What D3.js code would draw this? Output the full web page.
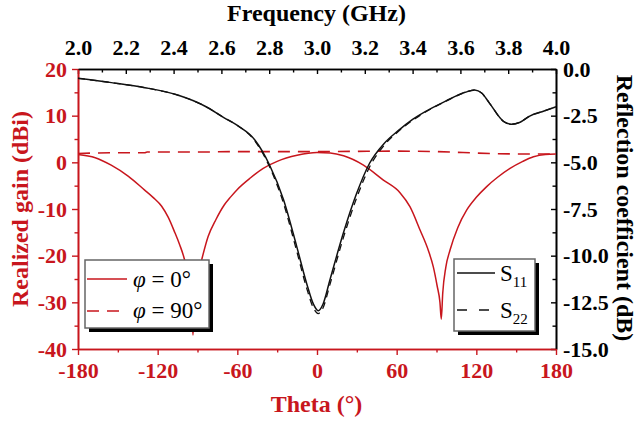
<!DOCTYPE html>
<html><head><meta charset="utf-8">
<script src="https://cdn.jsdelivr.net/npm/d3@7"></script>
</head>
<body style="margin:0;background:#fff">
<svg id="c" width="638" height="423"></svg>
<script>
// ---- data ----
const thetaPhi0 = [-180,-167,-155,-142,-130,-123.5,-117,-112,-107,-103.5,-100,-97,-94.6,-93.4,-92.2,-89.5,-86.6,-82,-76,-70,-65,-60,-50,-40.5,-30,-15,0,10,20,35,50,62.5,70,77.6,84,87.6,90.5,92.6,93.6,94.7,97,100.2,106,112.8,120,127.8,136,145.4,155,163,172,180];
const gainPhi0  = [1.7,1.0,-0.6,-3.0,-5.9,-7.5,-9.4,-11.8,-15.1,-17.6,-20.6,-24.5,-30,-37,-30,-24,-20.6,-15.9,-12.2,-9.2,-7.4,-5.8,-3.3,-1.3,0.2,1.5,2.1,2.0,1.4,-0.6,-3.8,-6.5,-9.5,-14.5,-19,-22.4,-26.5,-30,-33.6,-28,-22.5,-18.8,-14,-10.2,-7.5,-5.2,-3.2,-1.3,0.2,1.2,1.7,1.8];
const thetaPhi90 = [-180,-150,-130,-128,-120,-90,-60,-30,0,30,60,90,110,130,150,165,180];
const gainPhi90  = [1.9,2.05,2.05,2.2,2.2,2.2,2.3,2.3,2.3,2.35,2.4,2.3,2.1,1.9,1.8,1.8,1.8];
const freq = [2.0,2.14,2.28,2.42,2.53,2.61,2.67,2.74,2.80,2.86,2.915,2.957,2.985,3.005,3.025,3.054,3.11,3.166,3.22,3.28,3.34,3.40,3.54,3.62,3.66,3.69,3.72,3.78,3.815,3.85,3.89,3.95,4.0];
const s11  = [-0.5,-0.73,-1.0,-1.41,-1.98,-2.6,-3.05,-3.8,-5.1,-7.0,-9.5,-11.5,-12.6,-12.95,-12.6,-11.3,-8.8,-6.66,-5.05,-4.0,-3.3,-2.7,-1.71,-1.25,-1.12,-1.3,-1.8,-2.8,-2.96,-2.85,-2.52,-2.25,-2.02];
const s22  = [-0.5,-0.73,-1.0,-1.41,-1.98,-2.6,-3.05,-3.85,-5.2,-7.2,-9.75,-11.75,-12.8,-13.1,-12.8,-11.55,-9.05,-6.9,-5.25,-4.1,-3.35,-2.75,-1.72,-1.25,-1.12,-1.3,-1.8,-2.8,-2.96,-2.85,-2.52,-2.25,-2.02];
const thetaTicks = [-180,-120,-60,0,60,120,180];
const freqTicks = [2.0,2.2,2.4,2.6,2.8,3.0,3.2,3.4,3.6,3.8,4.0];
const gainTicks = [-40,-30,-20,-10,0,10,20];
const reflTicks = [-15,-12.5,-10,-7.5,-5,-2.5,0];

const RED = "#c8161d";
const FONT = '"Liberation Serif"';
const svg = d3.select("#c");
const L=78, R=556, T=69, B=349;
const x = d3.scaleLinear([-180,180],[L,R]);
const xf = d3.scaleLinear([2,4],[L,R]);
const yl = d3.scaleLinear([-40,20],[B,T]);
const yr = d3.scaleLinear([-15,0],[B,T]);

function styleAxis(g,color,fs){
  g.select(".domain").attr("stroke",color).attr("stroke-width",1.6);
  g.selectAll(".tick line").attr("stroke",color).attr("stroke-width",1.4);
  g.selectAll(".tick text").attr("fill",color).style("font-size",fs+"px").style("font-weight","bold").style("font-family",FONT);
}
const mid=(a)=>{const r=[];for(let i=0;i<a.length-1;i++)r.push((a[i]+a[i+1])/2);return r;};

// minor ticks
svg.append("g").attr("transform",`translate(0,${B})`).call(d3.axisBottom(x).tickValues(mid(thetaTicks)).tickSizeInner(3.5).tickSizeOuter(0).tickFormat("")).call(g=>styleAxis(g,RED,22));
svg.append("g").attr("transform",`translate(${L},0)`).call(d3.axisLeft(yl).tickValues(mid(gainTicks)).tickSizeInner(3.5).tickSizeOuter(0).tickFormat("")).call(g=>styleAxis(g,RED,22));
svg.append("g").attr("transform",`translate(0,${T})`).call(d3.axisTop(xf).tickValues(mid(freqTicks)).tickSizeInner(-3.5).tickSizeOuter(0).tickFormat("")).call(g=>styleAxis(g,"#000",22));
svg.append("g").attr("transform",`translate(${R},0)`).call(d3.axisRight(yr).tickValues(mid(reflTicks)).tickSizeInner(-3.5).tickSizeOuter(0).tickFormat("")).call(g=>styleAxis(g,"#000",22));

// major axes
svg.append("g").attr("transform",`translate(0,${T})`)
  .call(d3.axisTop(xf).tickValues(freqTicks).tickSizeInner(-5).tickSizeOuter(0).tickPadding(14).tickFormat(d=>d.toFixed(1)))
  .call(g=>styleAxis(g,"#000",22));
svg.append("g").attr("transform",`translate(${R},0)`)
  .call(d3.axisRight(yr).tickValues(reflTicks).tickSizeInner(-5).tickSizeOuter(0).tickPadding(7).tickFormat(d=>d.toFixed(1)))
  .call(g=>styleAxis(g,"#000",22));
svg.append("g").attr("transform",`translate(0,${B})`)
  .call(d3.axisBottom(x).tickValues(thetaTicks).tickSizeInner(6).tickSizeOuter(0).tickPadding(7).tickFormat(d=>String(d)))
  .call(g=>styleAxis(g,RED,22));
svg.append("g").attr("transform",`translate(${L},0)`)
  .call(d3.axisLeft(yl).tickValues(gainTicks).tickSizeInner(6).tickSizeOuter(0).tickPadding(5).tickFormat(d=>String(d)))
  .call(g=>styleAxis(g,RED,22));

// curves
const lineG = d3.line().x(d=>x(d[0])).y(d=>yl(d[1])).curve(d3.curveMonotoneX);
const lineF = d3.line().x(d=>xf(d[0])).y(d=>yr(d[1])).curve(d3.curveMonotoneX);
svg.append("path").attr("d",lineG(thetaPhi90.map((t,i)=>[t,gainPhi90[i]]))).attr("fill","none").attr("stroke",RED).attr("stroke-width",1.6).attr("stroke-dasharray","12,8");
svg.append("path").attr("d",lineG(thetaPhi0.map((t,i)=>[t,gainPhi0[i]]))).attr("fill","none").attr("stroke",RED).attr("stroke-width",1.5);
svg.append("path").attr("d",lineF(freq.map((f,i)=>[f,s22[i]]))).attr("fill","none").attr("stroke","#111").attr("stroke-width",1.3).attr("stroke-dasharray","7,5");
svg.append("path").attr("d",lineF(freq.map((f,i)=>[f,s11[i]]))).attr("fill","none").attr("stroke","#111").attr("stroke-width",1.5);

// axis titles
const title=(sel)=>sel.style("font-family",FONT).style("font-size","24px").style("font-weight","bold").attr("text-anchor","middle");
svg.append("text").attr("x",316.5).attr("y",21).call(title).text("Frequency (GHz)");
svg.append("text").attr("x",316.5).attr("y",412).call(title).attr("fill",RED).text("Theta (°)");
svg.append("text").attr("transform","translate(28,209) rotate(-90)").call(title).attr("fill",RED).text("Realized gain (dBi)");
svg.append("text").attr("transform","translate(617,208) rotate(90)").call(title).text("Reflection coefficient (dB)");

// legends
function legendBox(x0,y0,w,h){
  svg.append("rect").attr("x",x0+4).attr("y",y0+4).attr("width",w).attr("height",h).attr("fill","#000");
  svg.append("rect").attr("x",x0).attr("y",y0).attr("width",w).attr("height",h).attr("fill","#fff").attr("stroke","#666").attr("stroke-width",1.5);
}
const ltext=(sel)=>sel.style("font-family",FONT).style("font-size","23px");
legendBox(85,260,124,68);
svg.append("line").attr("x1",87).attr("x2",127).attr("y1",279).attr("y2",279).attr("stroke",RED).attr("stroke-width",1.5);
svg.append("line").attr("x1",87).attr("x2",127).attr("y1",311).attr("y2",311).attr("stroke",RED).attr("stroke-width",1.5).attr("stroke-dasharray","12,8");
const t1=svg.append("text").attr("x",133).attr("y",287).call(ltext);
t1.append("tspan").style("font-style","italic").text("φ");
t1.append("tspan").text(" = 0°");
const t2=svg.append("text").attr("x",133).attr("y",318).call(ltext);
t2.append("tspan").style("font-style","italic").text("φ");
t2.append("tspan").text(" = 90°");

legendBox(454,259,81,72);
svg.append("line").attr("x1",457).attr("x2",495).attr("y1",273).attr("y2",273).attr("stroke","#111").attr("stroke-width",1.5);
svg.append("line").attr("x1",457).attr("x2",495).attr("y1",310).attr("y2",310).attr("stroke","#111").attr("stroke-width",1.5).attr("stroke-dasharray","10,12");
[["11",281],["22",318]].forEach(([s,yy])=>{
  const t=svg.append("text").attr("x",500).attr("y",yy).call(ltext);
  t.append("tspan").text("S");
  t.append("tspan").style("font-size","15px").attr("dy",6).text(s);
});
</script>
</body></html>
